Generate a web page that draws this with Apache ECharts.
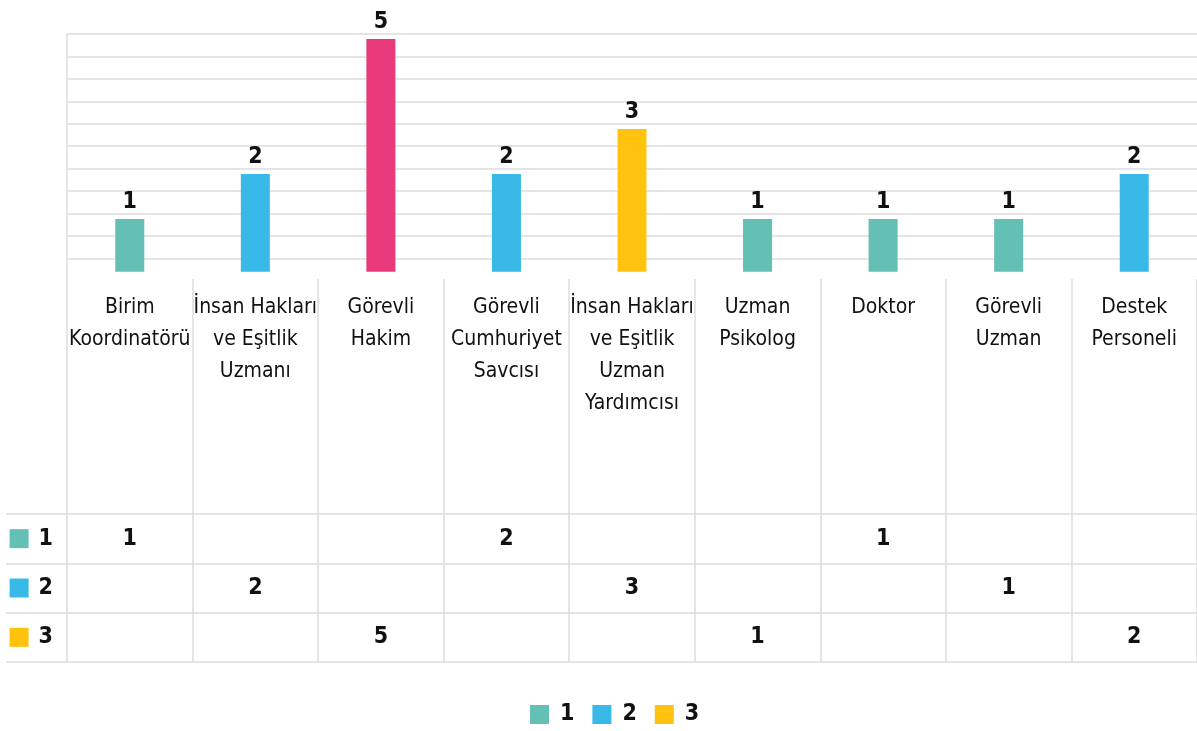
<!DOCTYPE html>
<html>
<head>
<meta charset="utf-8">
<script src="https://cdn.jsdelivr.net/npm/echarts@6/dist/echarts.min.js"></script>
<style>
  html, body { margin: 0; padding: 0; background: #fff; }
  #chart { width: 1197px; height: 731px; }
</style>
</head>
<body>
<div id="chart"></div>
<script>
const categories = [
  'Birim\nKoordinatörü',
  'İnsan Hakları\nve Eşitlik\nUzmanı',
  'Görevli\nHakim',
  'Görevli\nCumhuriyet\nSavcısı',
  'İnsan Hakları\nve Eşitlik\nUzman\nYardımcısı',
  'Uzman\nPsikolog',
  'Doktor',
  'Görevli\nUzman',
  'Destek\nPersoneli'
]
const barValues = [1, 2, 5, 2, 3, 1, 1, 1, 2]
const barColors = ['#64BFB4', '#38B9E8', '#E8397A', '#38B9E8', '#FFC20E', '#64BFB4', '#64BFB4', '#64BFB4', '#38B9E8']

const rowNames = ['1', '2', '3']
const row1 = [1, null, null, 2, null, null, 1, null, null]
const row2 = [null, 2, null, null, 3, null, null, 1, null]
const row3 = [null, null, 5, null, null, 1, null, null, 2]
const rowColors = ['#64BFB4', '#38B9E8', '#FFC20E']

const FONT = "'Liberation Sans Narrow', 'DejaVu Sans Condensed', 'Roboto', sans-serif"
const GRID_LINE = '#dddddd'

const chart = echarts.init(document.getElementById('chart'))

const tableSeries = [row1, row2, row3].map((row, i) => ({
  name: rowNames[i],
  type: 'scatter',
  xAxisIndex: 2,
  yAxisIndex: 3,
  symbolSize: 0,
  silent: true,
  itemStyle: { color: rowColors[i], opacity: 1 },
  label: {
    show: true,
    position: 'inside',
    formatter: p => p.value[2],
    fontFamily: FONT,
    fontWeight: 'bold',
    fontSize: 23,
    color: '#111'
  },
  data: row.map((v, j) => v == null ? null : [j, rowNames[i], v]).filter(d => d)
}))

const option = {
  animation: false,
  grid: [
    { left: 67, right: 0, top: 34, bottom: 731 - 279 },
    { left: 67, right: 0, top: 279, bottom: 731 - 514 },
    { left: 67, right: 0, top: 514, bottom: 731 - 662 }
  ],
  xAxis: [
    {
      type: 'category', gridIndex: 0, data: categories,
      axisLine: { show: false }, axisTick: { show: false },
      axisLabel: { show: false }, splitLine: { show: false }
    },
    {
      type: 'category', gridIndex: 1, data: categories, position: 'top',
      axisLine: { show: false }, axisTick: { show: false },
      splitLine: { show: true, lineStyle: { color: GRID_LINE, width: 1.5 } },
      axisLabel: {
        inside: true, margin: 13, interval: 0,
        verticalAlign: 'top',
        fontFamily: FONT, fontSize: 21, lineHeight: 32, color: '#111'
      }
    },
    {
      type: 'category', gridIndex: 2, data: categories,
      axisLine: { show: false }, axisTick: { show: false },
      axisLabel: { show: false },
      splitLine: { show: true, lineStyle: { color: GRID_LINE, width: 1.5 } }
    }
  ],
  yAxis: [
    {
      type: 'value', gridIndex: 0, min: -0.3333, max: 5.1111, startValue: -0.1711,
      axisLine: { show: true, lineStyle: { color: GRID_LINE, width: 1.5 } },
      axisTick: { show: false }, axisLabel: { show: false }, splitLine: { show: false }
    },
    {
      type: 'value', gridIndex: 0, inverse: true, min: 0, max: 10.923, interval: 1,
      position: 'left',
      axisLine: { show: false }, axisTick: { show: false }, axisLabel: { show: false },
      splitLine: { show: true, showMaxLine: false, lineStyle: { color: GRID_LINE, width: 1.5 } }
    },
    {
      type: 'value', gridIndex: 1,
      axisLine: { show: false }, axisTick: { show: false }, axisLabel: { show: false },
      splitLine: { show: false }
    },
    {
      type: 'category', gridIndex: 2, data: rowNames, inverse: true,
      axisLine: { show: false },
      axisTick: { show: true, length: 61, lineStyle: { color: GRID_LINE, width: 1.5 } },
      splitLine: { show: true, lineStyle: { color: GRID_LINE, width: 1.5 } },
      axisLabel: {
        margin: 14,
        formatter: (v, i) => `{sq${i}|}{n|${v}}`,
        rich: {
          sq0: { width: 19, height: 19, backgroundColor: rowColors[0] },
          sq1: { width: 19, height: 19, backgroundColor: rowColors[1] },
          sq2: { width: 19, height: 19, backgroundColor: rowColors[2] },
          n: { fontFamily: FONT, fontWeight: 'bold', fontSize: 23, color: '#111', padding: [0, 0, 0, 10] }
        }
      }
    }
  ],
  legend: {
    data: rowNames,
    left: 525,
    top: 698,
    icon: 'rect',
    itemWidth: 19,
    itemHeight: 19,
    itemGap: 18,
    selectedMode: false,
    textStyle: { fontFamily: FONT, fontWeight: 'bold', fontSize: 23, color: '#111', padding: [0, 0, 0, 6] }
  },
  series: [
    {
      type: 'bar',
      xAxisIndex: 0,
      yAxisIndex: 0,
      barWidth: 29,
      silent: true,
      data: barValues.map((v, i) => ({ value: v, itemStyle: { color: barColors[i] } })),
      label: {
        show: true,
        position: 'top',
        distance: 5,
        fontFamily: FONT,
        fontWeight: 'bold',
        fontSize: 23,
        color: '#111'
      }
    },
    ...tableSeries
  ]
}

chart.setOption(option)
</script>
</body>
</html>
